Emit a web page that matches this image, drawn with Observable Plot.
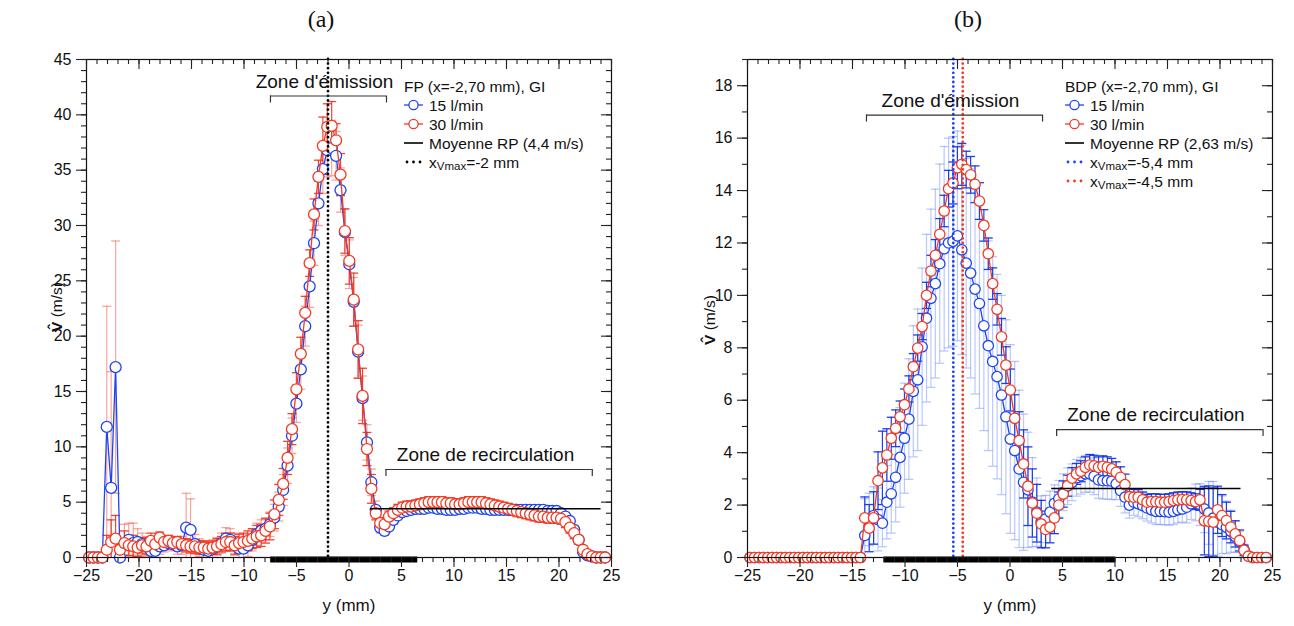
<!DOCTYPE html>
<html><head><meta charset="utf-8">
<script src="https://cdn.jsdelivr.net/npm/d3@7"></script>
<script src="https://cdn.jsdelivr.net/npm/@observablehq/plot@0.6"></script>
<style>
body{margin:0;background:#fff;}
#wrap{position:relative;width:1294px;height:626px;overflow:hidden;background:#fff;}
#pa{position:absolute;left:0;top:0;}
#pb{position:absolute;left:647px;top:0;}
</style></head><body><div id="wrap"><div id="pa"></div><div id="pb"></div></div>
<script>
// measurement positions y (mm), shared by both panels
const yPositions = [
-24.75,-24.33,-23.91,-23.49,-23.07,-22.65,-22.23,-21.81,-21.39,-20.97,
-20.55,-20.13,-19.71,-19.29,-18.87,-18.45,-18.03,-17.61,-17.19,-16.77,
-16.35,-15.93,-15.51,-15.09,-14.67,-14.25,-13.83,-13.41,-12.99,-12.57,
-12.15,-11.73,-11.31,-10.89,-10.47,-10.05,-9.63,-9.21,-8.79,-8.37,
-7.95,-7.53,-7.11,-6.69,-6.27,-5.85,-5.43,-5.01,-4.59,-4.17,
-3.75,-3.33,-2.91,-2.49,-2.07,-1.65,-1.23,-0.81,-0.39,0.03,
0.45,0.87,1.29,1.71,2.13,2.55,2.97,3.39,3.81,4.23,
4.65,5.07,5.49,5.91,6.33,6.75,7.17,7.59,8.01,8.43,
8.85,9.27,9.69,10.11,10.53,10.95,11.37,11.79,12.21,12.63,
13.05,13.47,13.89,14.31,14.73,15.15,15.57,15.99,16.41,16.83,
17.25,17.67,18.09,18.51,18.93,19.35,19.77,20.19,20.61,21.03,
21.45,21.87,22.29,22.71,23.13,23.55,23.97,24.39];

// (a) FP, 15 l/min
const vFP15 = [
0,0,0,0,11.8,6.3,17.2,0,1.2,1.6,
1.3,1.4,1.2,1.0,0.6,0.6,1.0,1.1,1.3,1.2,
1.0,1.1,2.7,2.5,1.2,0.9,0.7,0.6,0.8,1.0,
1.3,1.7,1.6,1.2,0.8,0.8,1.1,1.6,2.1,2.4,
2.6,3.0,3.6,4.6,6.1,8.3,11.0,13.9,17.0,20.9,
24.5,28.4,32.0,35.1,36.8,37.0,36.3,33.2,29.4,26.5,
23.1,18.6,14.4,10.4,6.8,4.3,2.7,2.4,2.8,3.4,
3.8,4.1,4.2,4.3,4.4,4.4,4.4,4.5,4.5,4.4,
4.4,4.3,4.3,4.3,4.4,4.4,4.5,4.5,4.5,4.4,
4.4,4.3,4.3,4.3,4.3,4.3,4.3,4.3,4.3,4.3,
4.3,4.3,4.3,4.3,4.2,4.2,4.2,4.0,3.7,3.3,
2.5,1.6,0.5,0.2,0.1,0,0,0];
const eFP15 = [
0,0,0,0,10.9,10.5,11.4,1.5,1.8,1.5,
1.8,1.2,1.0,0.9,1.0,0.9,0.7,0.6,0.6,0.6,
0.7,0.8,3.1,2.8,0.9,0.8,0.8,0.8,0.8,0.8,
0.9,1.0,1.0,1.0,1.0,1.0,1.0,1.0,1.0,1.0,
1.0,1.1,1.2,1.3,1.4,1.6,1.6,1.7,1.8,1.8,
1.9,2.0,2.0,2.2,2.4,2.5,2.2,2.0,2.1,2.2,
2.2,2.4,2.0,1.6,1.2,0.8,0.5,0.4,0.4,0.4,
0.4,0.4,0.4,0.4,0.4,0.4,0.4,0.4,0.4,0.4,
0.4,0.4,0.4,0.4,0.4,0.4,0.4,0.4,0.4,0.4,
0.4,0.4,0.4,0.4,0.4,0.4,0.4,0.4,0.4,0.4,
0.4,0.4,0.4,0.4,0.4,0.4,0.4,0.4,0.4,0.4,
0.4,0.3,0.3,0.2,0.1,0,0,0];
// (a) FP, 30 l/min
const vFP30 = [
0,0,0,0,0.7,1.4,1.7,0.7,1.3,1.1,
1.0,0.9,1.1,1.0,1.5,1.2,1.8,1.4,1.5,1.3,
1.4,1.2,1.1,1.0,1.0,0.9,0.9,0.8,0.9,1.0,
1.2,1.4,1.4,1.1,1.3,1.4,1.5,1.7,1.9,2.0,
2.4,2.8,3.9,5.2,6.65,9.0,11.6,15.2,18.4,22.1,
26.6,31.0,34.4,37.2,38.9,39.0,37.7,34.6,29.5,26.8,
23.3,18.8,14.6,9.8,6.2,4.0,3.1,3.0,3.7,4.0,
4.3,4.5,4.6,4.6,4.7,4.8,4.9,5.0,5.0,5.0,
5.0,4.9,4.9,4.8,4.8,4.9,5.0,5.0,5.0,5.0,
4.9,4.8,4.7,4.6,4.5,4.4,4.3,4.2,4.1,4.0,
3.9,3.8,3.7,3.7,3.6,3.6,3.6,3.5,3.2,2.7,
2.2,1.6,0.7,0.3,0.1,0,0,0];
const eFP30 = [
0,0,0,0,1.3,2.0,2.1,1.0,1.1,0.9,
1.0,0.8,0.7,0.7,0.7,0.6,0.5,0.5,0.5,0.5,
0.5,0.5,0.6,0.6,0.6,0.6,0.6,0.6,0.6,0.7,
0.7,0.8,0.8,0.8,0.8,0.8,0.9,0.9,1.0,1.0,
1.1,1.2,1.3,1.4,1.4,1.5,1.4,1.5,1.5,1.5,
1.2,1.4,1.5,2.6,2.1,2.2,1.5,1.9,2.0,2.1,
2.4,2.6,2.5,1.5,1.3,0.6,0.5,0.6,0.5,0.5,
0.5,0.5,0.5,0.5,0.5,0.5,0.5,0.5,0.5,0.5,
0.5,0.5,0.5,0.5,0.5,0.5,0.5,0.5,0.5,0.5,
0.5,0.5,0.5,0.5,0.5,0.5,0.5,0.5,0.5,0.5,
0.5,0.5,0.5,0.5,0.5,0.5,0.5,0.5,0.5,0.5,
0.5,0.4,0.3,0.2,0.1,0,0,0];

// (b) BDP, 15 l/min
const vBDP15 = [
0,0,0,0,0,0,0,0,0,0,
0,0,0,0,0,0,0,0,0,0,
0,0,0,0,0,0,0.84,1.45,1.6,1.45,
1.31,2.11,2.43,3.06,3.82,4.55,5.28,6.34,6.78,8.04,
9.13,9.89,10.45,11.21,11.78,12.0,12.06,12.27,11.74,11.23,
10.85,10.24,9.69,8.84,8.08,7.48,6.9,6.2,5.37,4.52,
4.08,3.38,2.87,2.58,2.11,1.73,1.35,1.47,1.73,2.07,
2.24,2.49,2.72,2.87,3.04,3.12,3.19,3.19,3.1,2.96,
2.93,2.93,2.91,2.81,2.55,2.3,2.0,2.11,2.05,1.98,
1.89,1.82,1.76,1.76,1.75,1.73,1.76,1.82,1.85,1.92,
2.05,2.1,2.02,1.85,1.7,1.5,1.35,1.25,1.15,1.0,
0.8,0.6,0.3,0.05,0,0,0,0];
const eBDP15 = [
0,0,0,0,0,0,0,0,0,0,
0,0,0,0,0,0,0,0,0,0,
0,0,0,0,0,0,1.4,1.0,1.1,1.2,
0.9,1.4,1.5,1.7,1.9,2.1,2.3,2.5,2.7,3.0,
3.2,3.4,3.6,3.8,3.9,4.0,4.0,4.0,4.0,4.0,
4.0,4.0,4.0,4.0,4.0,4.0,3.9,3.8,3.7,3.6,
3.4,3.0,2.6,2.2,1.7,1.3,1.0,0.9,0.8,0.7,
0.7,0.7,0.7,0.7,0.7,0.7,0.7,0.7,0.7,0.7,
0.7,0.7,0.7,0.6,0.6,0.6,0.5,0.5,0.5,0.5,
0.5,0.5,0.5,0.5,0.5,0.5,0.5,0.5,0.5,0.6,
0.6,0.7,0.8,0.9,1.2,1.4,1.3,1.1,1.0,0.8,
0.6,0.4,0.2,0.05,0,0,0,0];
// (b) BDP, 30 l/min
const vBDP30 = [
0,0,0,0,0,0,0,0,0,0,
0,0,0,0,0,0,0,0,0,0,
0,0,0,0,0,0,1.51,1.12,1.51,2.93,
3.42,3.91,4.55,4.93,5.37,5.83,6.43,7.28,7.99,8.81,
10.0,10.93,11.53,12.33,13.22,14.07,14.29,14.87,15.0,14.8,
14.6,14.24,13.6,12.67,11.59,10.45,9.47,8.42,7.34,6.39,
5.31,4.46,3.57,2.72,2.08,1.69,1.28,1.07,1.16,1.51,
2.0,2.42,2.74,3.03,3.19,3.29,3.44,3.53,3.5,3.44,
3.48,3.44,3.38,3.25,3.06,2.78,2.32,2.3,2.3,2.2,
2.11,2.13,2.13,2.11,2.11,2.13,2.17,2.2,2.21,2.2,
2.17,2.13,2.2,1.4,1.38,1.35,1.82,1.6,1.41,1.16,
0.9,0.65,0.27,0.05,0,0,0,0];
const eBDP30 = [
0,0,0,0,0,0,0,0,0,0,
0,0,0,0,0,0,0,0,0,0,
0,0,0,0,0,0,0.8,0.9,1.0,1.1,
1.4,1.0,0.8,0.7,0.6,0.6,0.5,0.5,0.5,0.5,
0.5,0.6,0.6,0.6,0.6,0.7,0.8,0.8,0.8,0.7,
0.7,0.7,0.7,0.6,0.6,0.6,0.6,0.7,0.7,0.8,
0.9,1.1,1.3,1.5,1.3,1.1,0.9,0.7,0.6,0.6,
0.5,0.5,0.4,0.4,0.4,0.4,0.4,0.4,0.4,0.4,
0.4,0.4,0.4,0.4,0.4,0.4,0.3,0.3,0.3,0.3,
0.3,0.3,0.3,0.3,0.3,0.3,0.3,0.3,0.3,0.3,
0.3,0.3,0.4,1.3,1.35,1.3,0.9,0.8,0.7,0.6,
0.5,0.4,0.2,0.05,0,0,0,0];

// tick labels
const xTickLabels = [-25,-20,-15,-10,-5,0,5,10,15,20,25];
const yTickLabelsA = [0,5,10,15,20,25,30,35,40,45];
const yTickLabelsB = [0,2,4,6,8,10,12,14,16,18];

// annotations
const meanA = [{v: 4.4, x1: 2.04, x2: 24.0}];
const meanB = [{v: 2.63, x1: 3.97, x2: 22.0}];
const vmaxA = [-2];
const vmaxB = [-5.4, -4.5];
const barA = [{y: 0, x1: -7.46, x2: 6.55}];
const barB = [{y: 0, x1: -12.0, x2: 10.06}];
const zonesA = [
  {name: "Zone d'émission", x1: -7.48, x2: 3.57, y: 41.7, lx: -2.33},
  {name: "Zone de recirculation", x1: 3.52, x2: 23.17, y: 7.95, lx: 13.0}];
const zonesB = [
  {name: "Zone d'émission", x1: -13.67, x2: 3.1, y: 16.88, lx: -5.67},
  {name: "Zone de recirculation", x1: 4.44, x2: 24.1, y: 4.88, lx: 13.9}];
const legendTitleA = "FP (x=-2,70 mm), GI";
const legendTitleB = "BDP (x=-2,70 mm), GI";
const seriesLabels = ["15 l/min", "30 l/min"];
const meanLabelA = "Moyenne RP (4,4 m/s)";
const meanLabelB = "Moyenne RP (2,63 m/s)";
const vmaxLabelsA = ["=-2 mm"];
const vmaxLabelsB = ["=-5,4 mm", "=-4,5 mm"];

const W = 647, H = 626, MT = 59, MB = 69;
const BLUE = "#1f45f2", RED = "#f23b22";
const FONT = "'Liberation Sans', Arial, Helvetica, sans-serif";
const cap = {draw(ctx, size){ const r = Math.sqrt(size / Math.PI); ctx.moveTo(-r, 0); ctx.lineTo(r, 0); }};
const fmt = d => d < 0 ? "\u2212" + Math.abs(d) : String(d);

function rows(v, e){ return yPositions.map((p, i) => ({p, v: v[i], e: e[i]})); }

function errMarks(data, stroke, op){
  const d = data.filter(r => r.e > 0);
  return [
    Plot.ruleX(d, {x: "p", y1: r => r.v - r.e, y2: r => r.v + r.e, stroke, strokeOpacity: op, strokeWidth: 1.2, clip: true}),
    Plot.dot(d, {x: "p", y: r => r.v + r.e, symbol: cap, r: 4.5, stroke, strokeOpacity: op, fill: "none", strokeWidth: 1.3, clip: true}),
    Plot.dot(d, {x: "p", y: r => r.v - r.e, symbol: cap, r: 4.5, stroke, strokeOpacity: op, fill: "none", strokeWidth: 1.3, clip: true})
  ];
}

function makePanel(o){
  const fw = W - o.ml - o.mr, fh = H - MT - MB;
  const xMinor = d3.range(-25, 26);
  const yMinor = d3.range(0, o.yMax + 1);
  const s15 = rows(o.v15, o.e15), s30 = rows(o.v30, o.e30);
  const tk = {stroke: "#222", strokeWidth: 1.1};
  const svg = Plot.plot({
    width: W, height: H, marginLeft: o.ml, marginRight: o.mr, marginTop: MT, marginBottom: MB,
    x: {domain: [-25, 25], axis: null}, y: {domain: [0, o.yMax], axis: null},
    style: {fontFamily: FONT, fontSize: "16px", color: "#111", background: "white"},
    marks: [
      ...errMarks(s15, o.err15, o.op15),
      ...errMarks(s30, o.err30, o.op30),
      Plot.line(s15, {x: "p", y: "v", stroke: BLUE, strokeWidth: 1.3}),
      Plot.dot(s15, {x: "p", y: "v", r: o.r, fill: "white", stroke: BLUE, strokeWidth: 1.3}),
      Plot.line(s30, {x: "p", y: "v", stroke: RED, strokeWidth: 1.3}),
      Plot.dot(s30, {x: "p", y: "v", r: o.r, fill: "white", stroke: RED, strokeWidth: 1.3}),
      Plot.ruleY(o.mean, {y: "v", x1: "x1", x2: "x2", stroke: "#000", strokeWidth: 1.6}),
      ...o.vmax.map((v, i) => Plot.ruleX([v], {stroke: o.vmaxColors[i], strokeWidth: 2.8, strokeDasharray: "0,4.6", strokeLinecap: "round"})),
      Plot.ruleY(o.bar, {y: "y", x1: "x1", x2: "x2", stroke: "#000", strokeWidth: 6, dy: 2}),
      Plot.ruleY(o.zones, {y: "y", x1: "x1", x2: "x2", stroke: "#333", strokeWidth: 1.2}),
      Plot.ruleX(o.zones, {x: "x1", y1: "y", y2: "y", insetBottom: -7, stroke: "#333", strokeWidth: 1.2}),
      Plot.ruleX(o.zones, {x: "x2", y1: "y", y2: "y", insetBottom: -7, stroke: "#333", strokeWidth: 1.2}),
      Plot.text(o.zones, {x: "lx", y: "y", text: "name", dy: -14.5, fontSize: 19, fill: "#111"}),
      Plot.frame({stroke: "#111", strokeWidth: 1.2}),
      Plot.ruleX(xTickLabels, {insetTop: fh, insetBottom: -10, ...tk}),
      Plot.ruleX(xMinor, {insetTop: fh, insetBottom: -5, ...tk}),
      Plot.ruleX(xTickLabels, {insetBottom: fh - 10, ...tk}),
      Plot.ruleX(xMinor, {insetBottom: fh - 5, ...tk}),
      Plot.ruleY(o.yMajor, {insetRight: fw, insetLeft: -10, ...tk}),
      Plot.ruleY(yMinor, {insetRight: fw, insetLeft: -5, ...tk}),
      Plot.ruleY(o.yMajor, {insetLeft: fw - 10, ...tk}),
      Plot.ruleY(yMinor, {insetLeft: fw - 5, ...tk}),
      // tick labels
      Plot.text(xTickLabels, {x: d => d, text: fmt, frameAnchor: "bottom", dy: 23, fontSize: 16, fill: "#111"}),
      Plot.text(o.yMajor, {y: d => d, text: d => String(d), frameAnchor: "left", dx: -15, textAnchor: "end", fontSize: 16, fill: "#111"}),
      Plot.text(["y (mm)"], {frameAnchor: "bottom", dy: 53, fontSize: 17, fill: "#111"})
    ]
  });
  const s = d3.select(svg);
  // panel title
  s.append("text").attr("x", 321).attr("y", 19).attr("text-anchor", "middle").attr("dominant-baseline", "central")
    .style("font-family", "'Liberation Serif', 'Times New Roman', serif").style("font-size", "24px").attr("fill", "#111").text(o.title);
  // y label
  const yl = s.append("text").attr("transform", `translate(${o.ylx},${o.yly}) rotate(-90)`).attr("text-anchor", "middle")
    .attr("dominant-baseline", "central").style("font-family", FONT).style("font-size", "15.5px").attr("fill", "#111");
  yl.append("tspan").attr("font-weight", "bold").text("V\u0302");
  yl.append("tspan").text(" (m/s)");
  // legend
  const g = s.append("g").style("font-family", FONT).style("font-size", "15.5px").attr("fill", "#111").attr("text-anchor", "start");
  const rowY = [86, 105, 124, 143, 162, 181];
  const x0 = o.lx;
  g.append("text").attr("x", x0).attr("y", rowY[0]).attr("text-anchor", "start").attr("dominant-baseline", "central").text(o.legendTitle);
  o.items.forEach((it, i) => {
    const y = rowY[i + 1];
    if (it.kind === "series") {
      g.append("line").attr("x1", x0).attr("x2", x0 + 19).attr("y1", y).attr("y2", y).attr("stroke", it.color).attr("stroke-width", 1.3);
      g.append("circle").attr("cx", x0 + 9.5).attr("cy", y).attr("r", 4.6).attr("fill", "white").attr("stroke", it.color).attr("stroke-width", 1.3);
    } else if (it.kind === "line") {
      g.append("line").attr("x1", x0).attr("x2", x0 + 19).attr("y1", y).attr("y2", y).attr("stroke", "#000").attr("stroke-width", 1.6);
    } else {
      [3, 9.5, 16].forEach(dx => g.append("circle").attr("cx", x0 + dx).attr("cy", y).attr("r", 1.4).attr("fill", it.color));
    }
    const t = g.append("text").attr("x", x0 + 25).attr("y", y).attr("text-anchor", "start").attr("dominant-baseline", "central");
    if (it.kind === "dots") {
      t.append("tspan").text("x");
      t.append("tspan").attr("dy", 4).style("font-size", "11.5px").text("Vmax");
      t.append("tspan").attr("dy", -4).text(it.text);
    } else t.text(it.text);
  });
  return svg;
}

document.getElementById("pa").appendChild(makePanel({
  ml: 86, mr: 36, yMax: 45, yMajor: yTickLabelsA, r: 5.5,
  v15: vFP15, e15: eFP15, v30: vFP30, e30: eFP30,
  err15: "#f26a58", op15: 0.6, err30: "#ee3120", op30: 0.9,
  mean: meanA, vmax: vmaxA, vmaxColors: ["#000"], bar: barA, zones: zonesA,
  title: "(a)", ylx: 56, yly: 307, lx: 404, legendTitle: legendTitleA,
  items: [
    {kind: "series", color: BLUE, text: seriesLabels[0]},
    {kind: "series", color: RED, text: seriesLabels[1]},
    {kind: "line", text: meanLabelA},
    {kind: "dots", color: "#000", text: vmaxLabelsA[0]}]
}));
document.getElementById("pb").appendChild(makePanel({
  ml: 100, mr: 22, yMax: 19, yMajor: yTickLabelsB, r: 5.2,
  v15: vBDP15, e15: eBDP15, v30: vBDP30, e30: eBDP30,
  err15: "#5a7ef5", op15: 0.42, err30: "#1535e6", op30: 0.95,
  mean: meanB, vmax: vmaxB, vmaxColors: [BLUE, RED], bar: barB, zones: zonesB,
  title: "(b)", ylx: 62, yly: 320, lx: 418, legendTitle: legendTitleB,
  items: [
    {kind: "series", color: BLUE, text: seriesLabels[0]},
    {kind: "series", color: RED, text: seriesLabels[1]},
    {kind: "line", text: meanLabelB},
    {kind: "dots", color: BLUE, text: vmaxLabelsB[0]},
    {kind: "dots", color: RED, text: vmaxLabelsB[1]}]
}));
</script></body></html>
